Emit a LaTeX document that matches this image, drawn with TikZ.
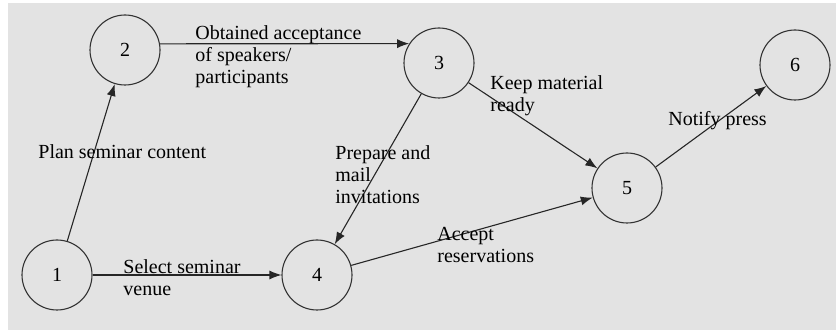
\documentclass[tikz,border=0pt]{standalone}
\usepackage{fontspec}
\setmainfont{Liberation Serif}
\usetikzlibrary{arrows.meta}
\begin{document}
\begin{tikzpicture}[x=0.5pt,y=-0.5pt,>={Latex[length=6pt,width=4.5pt]},
    event/.style={circle,draw=black!80,line width=0.55pt,minimum size=35pt,inner sep=0pt,
      font=\fontsize{10}{11}\selectfont},
    activity/.style={anchor=base west,align=left,inner sep=0pt,
      font=\fontsize{10}{11}\selectfont}]
      \fill[white] (0,0) rectangle (836,330);
      \fill[black!11] (8,3) rectangle (836,330);
      \useasboundingbox (0,0) rectangle (836,330);
      \draw
        (57,275) node[event] (1){1}
        (125,50) node[event] (2){2}
        (439,63) node[event] (3){3}
        (317,275) node[event] (4){4}
        (627,188) node[event] (5){5}
        (795,65) node[event] (6){6};
      \begin{scope}[->,draw=black!85,line width=0.55pt]
        \draw (1) to (2);
        \draw (2.10) to (3.147);
        \draw (3) to (4);
        \draw (3) to (5);
        \draw (1) to (4);
        \draw (4) to (5);
        \draw (5) to (6);
      \end{scope}
      % base west sits on the last line of each label
      \draw
        (38,159) node[activity] (plan){Plan seminar content}
        (195,84) node[activity] (obtain){Obtained acceptance\\of speakers/\\participants}
        (490,112) node[activity] (keep){Keep material\\ready}
        (335,204) node[activity] (prepare){Prepare and\\mail\\invitations}
        (123,296) node[activity] (select){Select seminar\\venue}
        (437,263) node[activity] (accept){Accept\\reservations}
        (668,126) node[activity] (notify){Notify press};
    \end{tikzpicture}
\end{document}
